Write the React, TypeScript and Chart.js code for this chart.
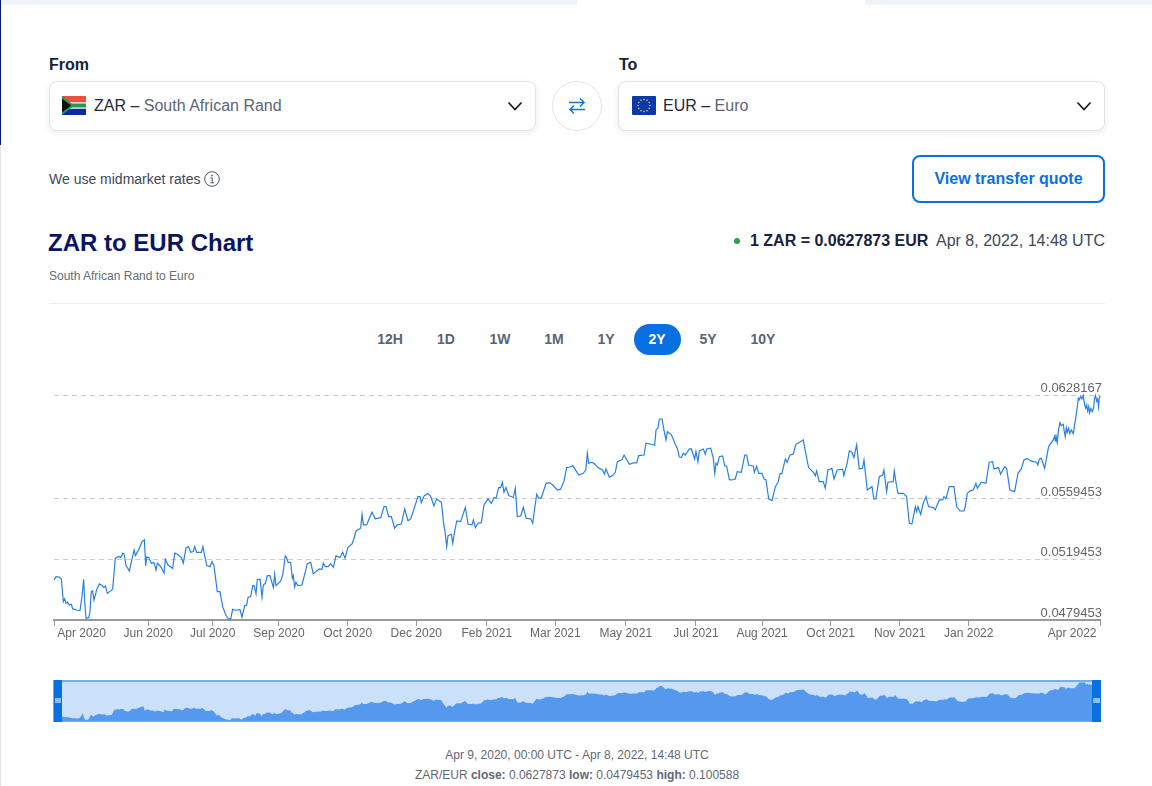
import React, { useEffect, useRef } from "react";
import Chart from "chart.js/auto";

const days = [
  0,1.4,3.7,5.1,6.5,7.4,8.4,9.3,10.7,12.1,13,14.6,16.3,18.1,19.5,20.7,21.4,22.3,24.2,25.1,26,26.9,27.9,29.7,31.6,33.5,34.8,35.8,37.2,39.5,
  40.9,42.7,45.1,46.5,47.9,48.8,50.2,52.5,55.8,56.7,59,61.3,63,63.9,64.6,66,67.8,69.7,71.1,72,73.4,74.8,76.7,77.6,79.4,82.7,84.1,86,88.7,90.1,
  92,93.8,95.2,97.1,98,99.4,102.7,103.8,106.4,108.7,110.1,111.5,113.8,115.7,117.5,119.9,121.3,123.1,124.5,126.4,129.6,131,132.9,134.3,135.2,137.1,138.5,139.4,140.8,141.7,
  143.6,145,145.9,147.3,148.7,150.5,152.9,153.8,154.7,158,159.4,161.2,162.1,163.1,164.9,166.1,166.8,167.7,168.6,170,172.8,175.2,176.5,178.9,180.7,183.1,184.9,186.8,187.7,189.1,
  191,192.8,194.7,196.5,199.3,201.2,202.8,204.9,207.7,209.1,210.5,213.7,214.7,215.6,217.9,219.3,221.6,223.9,227.7,230,231.4,233.2,235.1,237.4,239.3,242.1,244.4,246.7,248.6,250.9,
  253.7,255.1,256,257.9,260.6,262.5,264.8,266.7,268.5,270,271.4,272.5,273.7,274.6,276.9,277.9,279.3,280.7,283.4,286.7,288.6,291.3,292.3,293.7,295.5,297.8,299.7,302.5,304.8,306.7,
  308.1,309.9,311.3,312.5,313.6,315,316.9,320.1,321.5,322.9,325.3,327.1,329,332.2,333.6,336.4,337.8,339.7,342.9,345.2,347.6,350.8,353.1,355.5,357.3,359.6,361.5,365.7,368.9,370.6,
  371.7,372.6,374.5,376.4,379.1,382.4,383.6,384.7,387,389.4,391.2,392.6,395.9,397.3,401,403.8,406.1,407.5,411.2,412.6,415.4,418.6,419.6,421,421.9,423.7,425.1,426.5,427.5,430.3,
  433,434.4,435.8,437.2,438.6,440,442.8,444.2,446.5,447.4,448.8,449.8,452.6,453.9,454.9,457.7,459.5,460.5,461.4,462.3,463.7,466,467.4,468.8,470.7,472.5,474.8,476.2,479,481.4,
  482.8,484.1,487.4,488.1,489.7,491.1,493.4,494.8,496.2,498.1,500.4,502.7,504.6,506,507.3,509.7,511,512.9,515.2,517.1,522.2,523.6,525.9,529.2,530.6,531.5,533.3,536.1,537.5,539.4,
  542.2,543.6,545.9,549.6,550.5,552.9,554.3,556.1,557.5,559.4,561.2,563.5,564.5,566.8,570.1,571.4,572.8,575.2,577.5,578.4,580.3,581.2,584.9,585.6,586.8,588.2,591.9,594.2,596.1,597.9,
  600.3,601.2,602.1,604,605.8,607.7,609.5,612.8,614.2,617,619.3,620.2,621.6,623.9,627.2,629.1,631.4,634.2,635.1,636.5,638.8,640.7,642.5,643.5,646.2,649.5,651.8,654.1,655.1,658.3,
  659.7,662.5,663.9,666.2,669.5,671.8,674.1,676,678.3,680.6,684.8,685.7,686.7,688.1,690.4,693.2,696.4,697.3,697.8,698.3,698.7,699.2,700.1,701.1,702,703.4,704.1,704.8,705.5,706.2,
  707.1,708,709,710.4,711.3,712.2,712.9,713.9,714.5,715.5,716.4,717.3,718.3,719,719.7,720.4,721.1,721.7,722.7,723.6,724.5,725.2,725.9,726.6,727.3,728,728.5,729,
];

const rates = [
  0.05059,0.05081,0.05079,0.05066,0.04916,0.04934,0.04905,0.04912,0.04894,0.04899,0.04868,0.04865,0.04859,0.04857,0.04949,0.05064,0.04916,0.04806,0.0481,0.0485,0.04982,0.04987,0.04925,0.04993,0.05033,0.05022,0.05009,0.0502,0.04971,0.04987,
  0.05,0.05203,0.05214,0.05207,0.05236,0.05231,0.05154,0.05119,0.05258,0.0522,0.05258,0.05313,0.05324,0.05154,0.05211,0.05207,0.0517,0.05174,0.05125,0.0517,0.05158,0.05141,0.05103,0.05196,0.05158,0.05136,0.05236,0.05229,0.05207,0.0517,
  0.05269,0.0528,0.05242,0.05247,0.0528,0.05242,0.05242,0.0528,0.05154,0.05147,0.05181,0.05154,0.04982,0.04982,0.04883,0.04824,0.04806,0.04799,0.04865,0.04859,0.04863,0.04813,0.0489,0.04894,0.04943,0.04949,0.05022,0.05022,0.04967,0.05062,
  0.05064,0.04945,0.05026,0.05037,0.05088,0.05088,0.05009,0.05097,0.05022,0.05053,0.05092,0.05218,0.05207,0.05176,0.05176,0.0507,0.05088,0.05013,0.05044,0.05022,0.05026,0.05114,0.05167,0.05176,0.05099,0.05119,0.05132,0.0513,0.0517,0.05147,
  0.05147,0.05167,0.05143,0.05218,0.05207,0.05242,0.05203,0.05275,0.05297,0.05335,0.05383,0.05401,0.05493,0.05423,0.05423,0.05456,0.05507,0.05463,0.05471,0.05544,0.05544,0.05478,0.05478,0.05401,0.05423,0.05429,0.05529,0.05451,0.05463,0.05529,
  0.0561,0.0561,0.0557,0.05615,0.0563,0.05612,0.05548,0.05595,0.05581,0.05573,0.05445,0.05379,0.0528,0.05352,0.05361,0.05302,0.05383,0.05449,0.05445,0.0554,0.05427,0.05423,0.05456,0.05405,0.05434,0.05438,0.05555,0.05595,0.05566,0.05604,
  0.05599,0.0567,0.0567,0.05705,0.05639,0.0567,0.05617,0.05604,0.05665,0.05478,0.05482,0.0554,0.05467,0.05463,0.05434,0.05626,0.05599,0.05604,0.05698,0.05703,0.05687,0.05654,0.05659,0.05714,0.05802,0.05806,0.05815,0.05753,0.05764,0.05786,
  0.05897,0.0583,0.05837,0.0583,0.05802,0.05786,0.05758,0.05793,0.05738,0.05749,0.05771,0.05841,0.05855,0.05885,0.05824,0.05833,0.05833,0.05881,0.05885,0.05963,0.05958,0.05949,0.06051,0.06066,0.06123,0.06123,0.06051,0.05985,0.0604,0.06018,
  0.05956,0.0593,0.05872,0.0587,0.05897,0.05885,0.05925,0.05925,0.05859,0.05908,0.05841,0.05912,0.05925,0.0589,0.05925,0.0593,0.05863,0.05764,0.0583,0.05819,0.05874,0.05879,0.05815,0.05811,0.05722,0.0572,0.05727,0.05775,0.05771,0.05885,
  0.05885,0.05819,0.05811,0.05771,0.05811,0.05764,0.05764,0.05727,0.0572,0.05595,0.05584,0.05674,0.05705,0.05762,0.05762,0.05859,0.05837,0.05885,0.0589,0.05956,0.05985,0.05912,0.05802,0.05771,0.05747,0.0578,0.05709,0.05709,0.05665,0.05786,
  0.05797,0.05727,0.05786,0.05791,0.05749,0.05837,0.05912,0.05903,0.05868,0.05952,0.05793,0.05797,0.05852,0.05654,0.05676,0.05595,0.05595,0.05742,0.05753,0.05786,0.05643,0.05705,0.05709,0.0578,0.05705,0.05632,0.05632,0.0561,0.05434,0.05429,
  0.05544,0.05511,0.05544,0.05493,0.05566,0.0561,0.05544,0.05537,0.05522,0.05588,0.05588,0.0561,0.05595,0.05676,0.05676,0.05544,0.05515,0.05515,0.05544,0.05632,0.0565,0.05654,0.05698,0.05665,0.05705,0.05698,0.05837,0.05841,0.05793,0.05802,
  0.05758,0.05808,0.05797,0.05654,0.05643,0.05764,0.05791,0.05852,0.05863,0.05846,0.05837,0.05819,0.05859,0.05863,0.05797,0.05941,0.05985,0.06007,0.05978,0.06022,0.05985,0.05967,0.06051,0.06099,0.06079,0.06088,0.0604,0.06007,0.06066,0.06035,
  0.06062,0.06026,0.06051,0.06026,0.06084,0.06139,0.06183,0.0626,0.06249,0.06271,0.06256,0.06278,0.06216,0.06194,0.06216,0.06176,0.06205,0.06163,0.06194,0.06172,0.06194,0.0626,0.06278,0.06242,0.06256,0.06203,0.0626,0.06278,
];

const yTicks = [0.0479453, 0.0519453, 0.0559453, 0.0628167];
const tickDays = [0, 19.2, 65.7, 110.6, 156.8, 204.7, 252.5, 301.6, 349.4, 398.5, 447.4, 493.5, 541.3, 589.4, 637.5, 709.6, 729];
const tickLabels = ["", "Apr 2020", "Jun 2020", "Jul 2020", "Sep 2020", "Oct 2020", "Dec 2020", "Feb 2021", "Mar 2021", "May 2021", "Jul 2021", "Aug 2021", "Oct 2021", "Nov 2021", "Jan 2022", "Apr 2022", ""];
const labelOnlyTicks = [19.2, 709.6];
const ranges = [["12H", 390], ["1D", 446], ["1W", 500], ["1M", 554], ["1Y", 606], ["2Y", 657], ["5Y", 708], ["10Y", 763]] as const;

const FONT = '"Liberation Sans", Arial, sans-serif';
const BLUE = "#0a6fe0";
const pts = () => days.map((d, i) => ({ x: d, y: rates[i] }));

function MainChart() {
  const ref = useRef<HTMLCanvasElement>(null);
  useEffect(() => {
    const chart = new Chart(ref.current!, {
      type: "line",
      data: { datasets: [{ data: pts(), borderColor: "#2a80e0", borderWidth: 1.2, pointRadius: 0, tension: 0, clip: false }] },
      options: {
        animation: false, responsive: false, parsing: false,
        layout: { padding: { left: 54, right: 52, top: 15, bottom: 0 } },
        plugins: { legend: { display: false }, tooltip: { enabled: false } },
        scales: {
          x: {
            type: "linear", min: 0, max: 729,
            afterBuildTicks: (s: any) => { s.ticks = tickDays.map((value) => ({ value })); },
            afterFit: (s: any) => { s.height = 30; },
            grid: { drawOnChartArea: false, drawTicks: true, tickLength: 6, tickWidth: 1,
              tickColor: (c: any) => (labelOnlyTicks.includes(c.tick?.value) ? "rgba(0,0,0,0)" : "#999") },
            border: { color: "#999", width: 2 },
            ticks: {
              autoSkip: false, maxRotation: 0, padding: 0, color: "#666",
              font: { family: FONT, size: 12 },
              callback: (v: any) => tickLabels[tickDays.indexOf(v)],
            },
          },
          y: {
            type: "linear", position: "right", min: yTicks[0], max: yTicks[3],
            afterBuildTicks: (s: any) => { s.ticks = yTicks.map((value) => ({ value })); },
            afterFit: (s: any) => { s.width = 0; },
            grid: { color: "#ccc", lineWidth: 1, drawTicks: false },
            border: { display: false, dash: [5, 4] },
            ticks: {
              mirror: true, padding: 2, labelOffset: -7, color: "#666",
              font: { family: FONT, size: 13 },
              callback: (v: any) => Number(v).toFixed(7),
            },
          },
        },
      } as any,
    });
    return () => chart.destroy();
  }, []);
  return <canvas ref={ref} width={1152} height={270} style={{ position: "absolute", left: 0, top: 380, display: "block" }} />;
}

function NavChart() {
  const ref = useRef<HTMLCanvasElement>(null);
  useEffect(() => {
    const chart = new Chart(ref.current!, {
      type: "line",
      data: { datasets: [{ data: pts(), borderWidth: 0, backgroundColor: "#5499ee", fill: "start", pointRadius: 0, tension: 0 }] },
      options: {
        animation: false, responsive: false, parsing: false,
        plugins: { legend: { display: false }, tooltip: { enabled: false } },
        scales: {
          x: { type: "linear", display: false, min: 0, max: 729 },
          y: { type: "linear", display: false, min: 0.0476, max: 0.0632 },
        },
      } as any,
    });
    return () => chart.destroy();
  }, []);
  return <canvas ref={ref} width={1048} height={40} style={{ position: "absolute", left: 53, top: 681, background: "#cbe0f9", display: "block" }} />;
}

const T = ({ x, y, s, w = 400, c = "#1d2a3a", st, children, align }: any) => (
  <div style={{ position: "absolute", left: align === "center" ? x - 300 : align === "right" ? x - 600 : x, width: align ? 600 : undefined,
    textAlign: align || "left", top: y - 15, height: 30, lineHeight: "30px", fontSize: s, fontWeight: w, color: c, whiteSpace: "nowrap", ...st }}>{children}</div>
);

const boxStyle = (left: number): any => ({ position: "absolute", left, top: 81, width: 487, height: 50, boxSizing: "border-box",
  border: "1px solid #e1e4e8", borderRadius: 8, boxShadow: "0 2px 6px rgba(20,40,70,.09)", background: "#fff" });

const Chevron = ({ x }: any) => (
  <svg style={{ position: "absolute", left: x, top: 100 }} width="16" height="12" viewBox="0 0 16 12"><path d="M1.5 2.5 L8 9.5 L14.5 2.5" fill="none" stroke="#1a1a1a" strokeWidth="1.7" /></svg>
);

const ZaFlag = ({ x }: any) => (
  <svg style={{ position: "absolute", left: x, top: 96 }} width="24" height="19" viewBox="0 0 24 19">
    <rect width="24" height="6.5" fill="#e8503f" /><rect y="12.5" width="24" height="6.5" fill="#0e2a9c" /><rect y="6.5" width="24" height="6" fill="#fff" />
    <rect y="7.5" width="24" height="4" fill="#1f9b57" />
    <path d="M0 0 L12 9.5 L0 19Z" fill="#1f9b57" /><path d="M0 2.5 L9 9.5 L0 16.5Z" fill="#111" />
  </svg>
);

const EuFlag = ({ x }: any) => {
  const stars = Array.from({ length: 12 }, (_, i) => i * Math.PI / 6);
  return (
    <svg style={{ position: "absolute", left: x, top: 96 }} width="24" height="19" viewBox="0 0 24 19">
      <rect width="24" height="19" rx="1" fill="#0b3aa6" />
      {stars.map((a, i) => <circle key={i} cx={12 + 6 * Math.cos(a)} cy={9.5 + 6 * Math.sin(a)} r="0.8" fill="#e6c94a" />)}
    </svg>
  );
};

export default function App() {
  return (
    <div style={{ position: "absolute", left: 0, top: 0, width: 1152, height: 786, overflow: "hidden", background: "#fff", fontFamily: FONT }}>
      <div style={{ position: "absolute", left: 0, top: 0, width: 577, height: 5, background: "#f0f4f8" }} />
      <div style={{ position: "absolute", left: 865, top: 0, width: 287, height: 5, background: "#f0f4f8" }} />
      <div style={{ position: "absolute", left: 0, top: 0, width: 1, height: 145, background: "#0a1a6e" }} />
      <div style={{ position: "absolute", left: 0, top: 145, width: 1, height: 641, background: "#e3e6ea" }} />

      <T x={49} y={65} s={16} w={700} c="#14233a">From</T>
      <T x={619} y={65} s={16} w={700} c="#14233a">To</T>
      <div style={boxStyle(49)} />
      <div style={boxStyle(618)} />
      <ZaFlag x={62} />
      <EuFlag x={632} />
      <T x={94} y={106} s={16}>ZAR – <span style={{ color: "#5b6675" }}>South African Rand</span></T>
      <T x={663} y={106} s={16}>EUR – <span style={{ color: "#5b6675" }}>Euro</span></T>
      <Chevron x={507} />
      <Chevron x={1076} />
      <div style={{ position: "absolute", left: 552, top: 81, width: 50, height: 50, boxSizing: "border-box", border: "1px solid #e1e4e8", borderRadius: "50%", background: "#fff" }} />
      <svg style={{ position: "absolute", left: 568, top: 97 }} width="18" height="18" viewBox="0 0 18 18">
        <path d="M1 5.5 H16 M12 1.5 L16 5.5 L12 9.5" fill="none" stroke="#1673d6" strokeWidth="1.5" />
        <path d="M17 12.5 H2 M6 8.5 L2 12.5 L6 16.5" fill="none" stroke="#1673d6" strokeWidth="1.5" />
      </svg>

      <T x={49} y={179} s={14} c="#3d4857">We use midmarket rates</T>
      <svg style={{ position: "absolute", left: 204, top: 171 }} width="16" height="16" viewBox="0 0 16 16">
        <circle cx="8" cy="8" r="7.3" fill="none" stroke="#4a5563" strokeWidth="1" />
        <path d="M6.5 7 H8.2 V11.5 M6.3 11.8 H10" fill="none" stroke="#4a5563" strokeWidth="1" /><circle cx="8" cy="4.6" r="0.9" fill="#4a5563" />
      </svg>
      <div style={{ position: "absolute", left: 912, top: 155, width: 193, height: 48, boxSizing: "border-box", border: `2px solid ${BLUE}`, borderRadius: 8 }} />
      <T x={1008.5} y={179} s={16} w={700} c={BLUE} align="center">View transfer quote</T>

      <T x={48} y={243} s={24} w={700} c="#0a1464">ZAR to EUR Chart</T>
      <T x={49} y={276} s={12} c="#666c75">South African Rand to Euro</T>
      <div style={{ position: "absolute", left: 734, top: 238, width: 6, height: 6, borderRadius: 3, background: "#27a341" }} />
      <T x={750} y={241} s={16} w={700} c="#14233a">1 ZAR = 0.0627873 EUR</T>
      <T x={1105} y={241} s={16} c="#3d4857" align="right">Apr 8, 2022, 14:48 UTC</T>
      <div style={{ position: "absolute", left: 49, top: 303, width: 1056, height: 1, background: "#eceef1" }} />

      <div style={{ position: "absolute", left: 634, top: 324, width: 47, height: 31, borderRadius: 16, background: BLUE }} />
      {ranges.map(([r, x]) => (
        <T key={r} x={x} y={339} s={14} w={700} c={r === "2Y" ? "#fff" : "#5a6478"} align="center">{r}</T>
      ))}

      <MainChart />

      <NavChart />
      <div style={{ position: "absolute", left: 53, top: 680, width: 1048, height: 42, boxSizing: "border-box", border: "1px solid #79ace9", borderTopWidth: 2 }} />
      <div style={{ position: "absolute", left: 54, top: 680, width: 8, height: 42, background: BLUE }} />
      <div style={{ position: "absolute", left: 1092, top: 680, width: 9, height: 42, background: BLUE }} />
      <div style={{ position: "absolute", left: 55, top: 698, width: 6, height: 5, background: "#8fbcf2" }} />
      <div style={{ position: "absolute", left: 1093, top: 698, width: 7, height: 5, background: "#8fbcf2" }} />

      <T x={577} y={755} s={12} c="#5f6875" align="center">Apr 9, 2020, 00:00 UTC - Apr 8, 2022, 14:48 UTC</T>
      <T x={577} y={775} s={12} c="#5f6875" align="center">ZAR/EUR <b>close:</b> 0.0627873 <b>low:</b> 0.0479453 <b>high:</b> 0.100588</T>
    </div>
  );
}
